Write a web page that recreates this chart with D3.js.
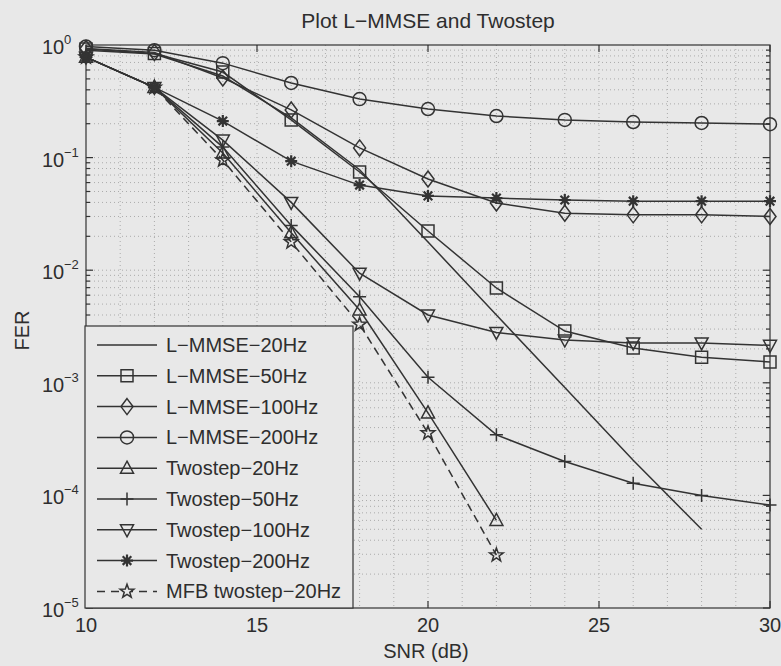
<!DOCTYPE html>
<html>
<head>
<meta charset="utf-8">
<script src="https://cdn.jsdelivr.net/npm/d3@7/dist/d3.min.js"></script>
<style>
  html, body { margin: 0; padding: 0; background: #e8e8e8; }
  svg { display: block; font-family: "Liberation Sans", Arial, Helvetica, sans-serif; }
</style>
</head>
<body>
<svg id="chart" width="781" height="666"></svg>
<script>
// SNR grid (dB) and FER values
const snr = [10, 12, 14, 16, 18, 20, 22, 24, 26, 28, 30];
const lmmse20  = [0.90, 0.83, 0.53, 0.225, 0.078, 0.0178, 0.0040, 9.1e-4, 2.05e-4, 5.0e-5];
const lmmse50  = [0.92, 0.84, 0.575, 0.216, 0.0745, 0.0223, 0.00695, 0.00288, 0.00204, 0.00169, 0.00153];
const lmmse100 = [0.93, 0.86, 0.51, 0.265, 0.122, 0.0645, 0.0395, 0.032, 0.031, 0.031, 0.030];
const lmmse200 = [0.97, 0.90, 0.69, 0.46, 0.331, 0.27, 0.234, 0.216, 0.207, 0.203, 0.198];
const two20    = [0.78, 0.42, 0.11, 0.0215, 0.00443, 5.4e-4, 6.0e-5];
const two50    = [0.78, 0.42, 0.124, 0.025, 0.0058, 1.12e-3, 3.45e-4, 2.0e-4, 1.28e-4, 1.0e-4, 8.2e-5];
const two100   = [0.78, 0.42, 0.143, 0.040, 0.0094, 0.0040, 0.0028, 0.0024, 0.00226, 0.00226, 0.00215];
const two200   = [0.78, 0.42, 0.211, 0.093, 0.057, 0.0457, 0.0437, 0.042, 0.041, 0.041, 0.041];
const mfb20    = [0.78, 0.42, 0.095, 0.0178, 0.0033, 3.58e-4, 2.95e-5];

const seriesNames = ['L−MMSE−20Hz', 'L−MMSE−50Hz', 'L−MMSE−100Hz', 'L−MMSE−200Hz',
  'Twostep−20Hz', 'Twostep−50Hz', 'Twostep−100Hz', 'Twostep−200Hz', 'MFB twostep−20Hz'];
const seriesValues = [lmmse20, lmmse50, lmmse100, lmmse200, two20, two50, two100, two200, mfb20];
const seriesMarkers = ['none', 'square', 'diamond', 'circle', 'tri', 'plus', 'tridown', 'asterisk', 'pentagram'];

const xTicks = [10, 15, 20, 25, 30];
const yTicks = [1, 1e-1, 1e-2, 1e-3, 1e-4, 1e-5];
const yExp = ['0', '−1', '−2', '−3', '−4', '−5'];

const title = 'Plot L−MMSE and Twostep';
const xLabel = 'SNR (dB)';
const yLabel = 'FER';

// layout
const W = 781, H = 666;
const m = { left: 86, right: 770, top: 45, bottom: 608 };
const ink = '#333333';

const svg = d3.select('#chart');
const x = d3.scaleLinear().domain([10, 30]).range([m.left, m.right]);
const y = d3.scaleLog().domain([1e-5, 1]).range([m.bottom, m.top]);

svg.append('rect').attr('width', W).attr('height', H).attr('fill', '#e8e8e8');

// grid (dotted, major + minor)
const grid = svg.append('g').attr('stroke', '#ababab').attr('stroke-width', 1)
  .attr('stroke-dasharray', '1,3');
d3.range(11, 30).forEach(v => {
  grid.append('line').attr('x1', x(v)).attr('x2', x(v)).attr('y1', m.top).attr('y2', m.bottom);
});
const minorY = [];
for (let e = -5; e < 0; e++) for (let k = 1; k < 10; k++) minorY.push(k * Math.pow(10, e));
minorY.filter(v => v > 1e-5).forEach(v => {
  grid.append('line').attr('x1', m.left).attr('x2', m.right).attr('y1', y(v)).attr('y2', y(v));
});

// axes box + ticks
const axes = svg.append('g').attr('stroke', ink).attr('stroke-width', 1.2).attr('fill', 'none');
axes.append('rect').attr('x', m.left).attr('y', m.top)
  .attr('width', m.right - m.left).attr('height', m.bottom - m.top);
xTicks.forEach(v => {
  axes.append('line').attr('x1', x(v)).attr('x2', x(v)).attr('y1', m.bottom).attr('y2', m.bottom - 7);
  axes.append('line').attr('x1', x(v)).attr('x2', x(v)).attr('y1', m.top).attr('y2', m.top + 7);
});
minorY.forEach(v => {
  const len = (Math.abs(Math.log10(v) - Math.round(Math.log10(v))) < 1e-9) ? 7 : 4;
  axes.append('line').attr('x1', m.left).attr('x2', m.left + len).attr('y1', y(v)).attr('y2', y(v));
  axes.append('line').attr('x1', m.right).attr('x2', m.right - len).attr('y1', y(v)).attr('y2', y(v));
});

// tick labels
const txt = svg.append('g').attr('fill', '#2e2e2e');
xTicks.forEach(v => {
  txt.append('text').attr('x', x(v)).attr('y', 632).attr('text-anchor', 'middle')
    .attr('font-size', 20).text(v);
});
yTicks.forEach((v, i) => {
  txt.append('text').attr('x', 42).attr('y', y(v) + 9).attr('font-size', 20).text('10');
  txt.append('text').attr('x', 64).attr('y', y(v) - 1).attr('font-size', 13).text(yExp[i]);
});
txt.append('text').attr('x', (m.left + m.right) / 2 - 2).attr('y', 658).attr('text-anchor', 'middle')
  .attr('font-size', 20).text(xLabel);
txt.append('text').attr('transform', `translate(29,${(m.top + m.bottom) / 2 + 4}) rotate(-90)`)
  .attr('text-anchor', 'middle').attr('font-size', 20).text(yLabel);
txt.append('text').attr('x', (m.left + m.right) / 2).attr('y', 28).attr('text-anchor', 'middle')
  .attr('font-size', 21).text(title);

// marker paths centred at 0,0
function markerPath(type) {
  switch (type) {
    case 'circle': return d3.arc()({ innerRadius: 0, outerRadius: 6.5, startAngle: 0, endAngle: 2 * Math.PI });
    case 'square': return 'M-6,-6H6V6H-6Z';
    case 'diamond': return 'M0,-8L6,0L0,8L-6,0Z';
    case 'tri': return 'M0,-7L6.5,5L-6.5,5Z';
    case 'tridown': return 'M0,7L6.5,-5L-6.5,-5Z';
    case 'plus': return 'M-6.5,0H6.5M0,-6.5V6.5';
    case 'asterisk': return 'M-6,0H6M0,-6V6M-4.3,-4.3L4.3,4.3M-4.3,4.3L4.3,-4.3';
    case 'pentagram': {
      const pts = d3.range(10).map(i => {
        const r = i % 2 ? 2.9 : 7.2, a = -Math.PI / 2 + i * Math.PI / 5;
        return [r * Math.cos(a), r * Math.sin(a)];
      });
      return 'M' + pts.map(p => p.join(',')).join('L') + 'Z';
    }
    default: return null;
  }
}

// series
const line = d3.line().x(d => x(d.x)).y(d => y(d.y));
const plot = svg.append('g');
seriesValues.forEach((vals, i) => {
  const pts = vals.map((v, j) => ({ x: snr[j], y: v }));
  plot.append('path').datum(pts).attr('d', line).attr('fill', 'none')
    .attr('stroke', ink).attr('stroke-width', 1.5)
    .attr('stroke-dasharray', i === 8 ? '8,5' : null);
  const mp = markerPath(seriesMarkers[i]);
  if (mp) {
    plot.selectAll(null).data(pts).enter().append('path')
      .attr('d', mp).attr('transform', d => `translate(${x(d.x)},${y(d.y)})`)
      .attr('fill', 'none').attr('stroke', ink)
      .attr('stroke-width', seriesMarkers[i] === 'asterisk' ? 2.2 : 1.5);
  }
});

// legend
const lg = svg.append('g');
lg.append('rect').attr('x', 85).attr('y', 326).attr('width', 268).attr('height', m.bottom - 326)
  .attr('fill', '#e8e8e8').attr('stroke', ink).attr('stroke-width', 1.2);
seriesNames.forEach((name, i) => {
  const ly = 345 + i * 30.8;
  lg.append('line').attr('x1', 97).attr('x2', 157).attr('y1', ly).attr('y2', ly)
    .attr('stroke', ink).attr('stroke-width', 1.5)
    .attr('stroke-dasharray', i === 8 ? '8,6' : null);
  const mp = markerPath(seriesMarkers[i]);
  if (mp) {
    lg.append('path').attr('d', mp).attr('transform', `translate(127,${ly})`)
      .attr('fill', i === 8 ? '#e8e8e8' : 'none').attr('stroke', ink)
      .attr('stroke-width', seriesMarkers[i] === 'asterisk' ? 2.2 : 1.5);
  }
  lg.append('text').attr('x', 166).attr('y', ly + 7).attr('font-size', 20)
    .attr('fill', '#2e2e2e').text(name);
});
</script>
</body>
</html>
